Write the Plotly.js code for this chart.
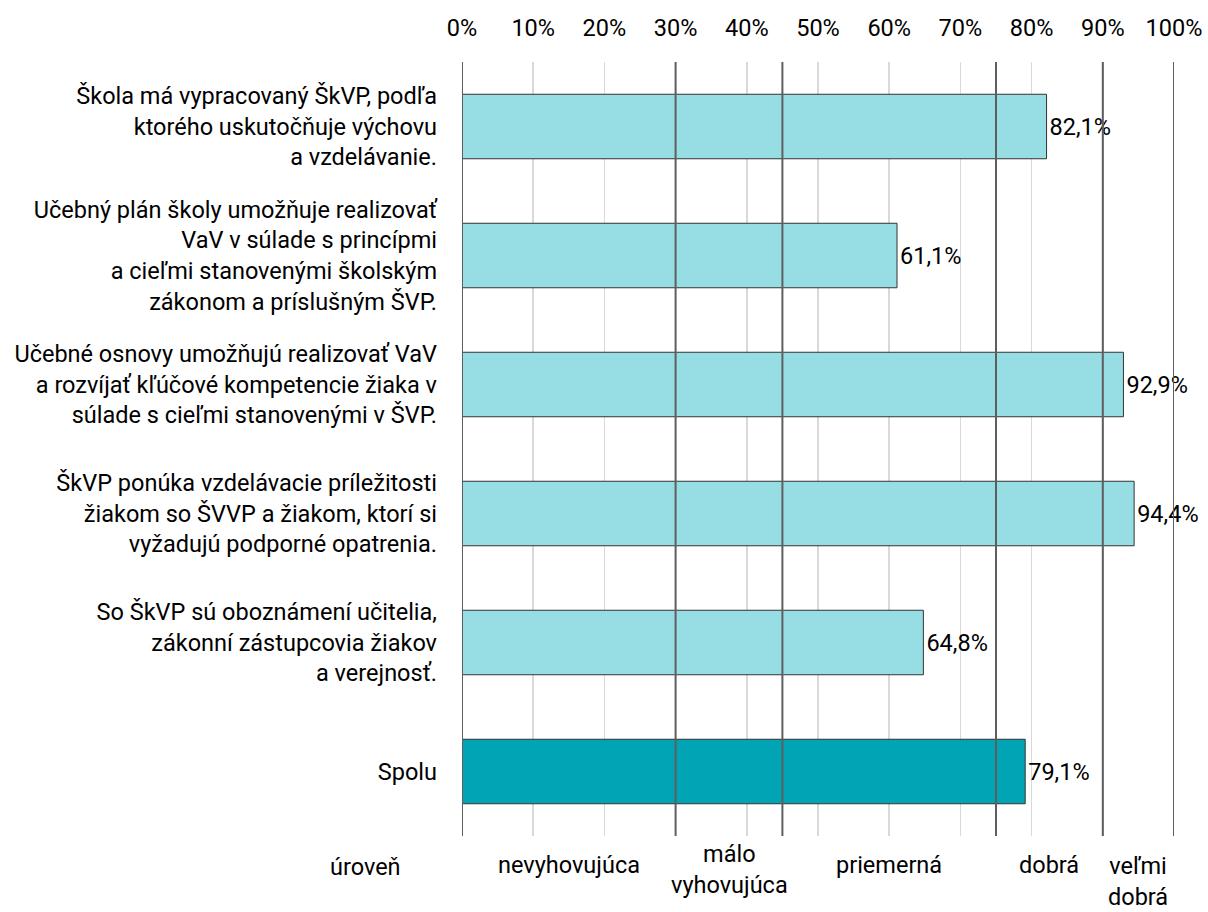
<!DOCTYPE html>
<html><head><meta charset="utf-8">
<script src="https://cdn.plot.ly/plotly-3.0.1.min.js"></script>
<style>html,body{margin:0;padding:0;background:#fff}</style>
</head><body><div id="chart" style="width:1208px;height:912px"></div>
<script>
const categories = [
  "Škola má vypracovaný ŠkVP, podľa<br>ktorého uskutočňuje výchovu<br>a vzdelávanie.",
  "Učebný plán školy umožňuje realizovať<br>VaV v súlade s princípmi<br>a cieľmi stanovenými školským<br>zákonom a príslušným ŠVP.",
  "Učebné osnovy umožňujú realizovať VaV<br>a rozvíjať kľúčové kompetencie žiaka v<br>súlade s cieľmi stanovenými v ŠVP.",
  "ŠkVP ponúka vzdelávacie príležitosti<br>žiakom so ŠVVP a žiakom, ktorí si<br>vyžadujú podporné opatrenia.",
  "So ŠkVP sú oboznámení učitelia,<br>zákonní zástupcovia žiakov<br>a verejnosť.",
  "Spolu"
];
const values = [82.1, 61.1, 92.9, 94.4, 64.8, 79.1];
const tickValues = [0, 10, 20, 30, 40, 50, 60, 70, 80, 90, 100];
const tickLabels = ["0%", "10%", "20%", "30%", "40%", "50%", "60%", "70%", "80%", "90%", "100%"];
const levelBounds = [0, 30, 45, 75, 90, 100];
const levelNames = ["nevyhovujúca", "málo<br>vyhovujúca", "priemerná", "dobrá", "veľmi<br>dobrá"];
const levelTitle = "úroveň";

const FONT = "Roboto, 'Noto Sans', sans-serif";
const FS = 23.5;
const barColors = values.map((v, i) => i === values.length - 1 ? "#00a4b5" : "#97dee4");
const labels = values.map(v => v.toFixed(1).replace(".", ",") + "%");

const trace = {
  type: "bar",
  orientation: "h",
  y: categories,
  x: values,
  text: labels,
  textposition: "outside",
  textfont: {family: FONT, size: FS, color: "#000"},
  cliponaxis: false,
  constraintext: "none",
  marker: {color: barColors, line: {color: "#333333", width: 1}},
  hoverinfo: "skip"
};

const shapes = levelBounds.map(b => ({
  type: "line", xref: "x", yref: "paper", x0: b, x1: b, y0: 0, y1: 1,
  layer: "above", line: {color: "#5e5e5e", width: 2}
}));

const annotations = [];
annotations.push({
  x: -0.135, xref: "paper", xanchor: "center", y: 0, yref: "paper", yanchor: "middle", yshift: -31,
  text: levelTitle, showarrow: false, font: {family: FONT, size: FS, color: "#000"}
});
levelNames.forEach((name, i) => {
  const mid = (levelBounds[i] + levelBounds[i + 1]) / 2;
  const twoLine = name.indexOf("<br>") >= 0;
  annotations.push({
    x: mid, xref: "x", xanchor: "center", y: 0, yref: "paper", yanchor: "middle",
    yshift: twoLine ? (i === levelNames.length - 1 ? -45 : -33) : -29,
    text: name, showarrow: false, align: "center",
    font: {family: FONT, size: FS, color: "#000"}
  });
});

const layout = {
  width: 1208, height: 912,
  margin: {l: 462, r: 34, t: 62, b: 76, pad: 0},
  paper_bgcolor: "#fff", plot_bgcolor: "#fff",
  showlegend: false, hovermode: false,
  bargap: 0.5,
  font: {family: FONT, size: FS, color: "#000"},
  xaxis: {
    side: "top", range: [0, 100], tickvals: tickValues, ticktext: tickLabels,
    showgrid: true, gridcolor: "#d9d9d9", gridwidth: 1.5,
    zeroline: false, showline: false, ticks: "", ticklabelstandoff: 20,
    tickfont: {family: FONT, size: FS, color: "#000"}, automargin: false, fixedrange: true
  },
  yaxis: {
    type: "category", range: [5.5, -0.5], showgrid: false, zeroline: false,
    showline: false, ticks: "", ticklabelstandoff: 24,
    tickfont: {family: FONT, size: FS, color: "#000"}, automargin: false, fixedrange: true
  },
  shapes: shapes,
  annotations: annotations
};

Plotly.newPlot("chart", [trace], layout, {displayModeBar: false, staticPlot: true});
</script>
</body></html>
